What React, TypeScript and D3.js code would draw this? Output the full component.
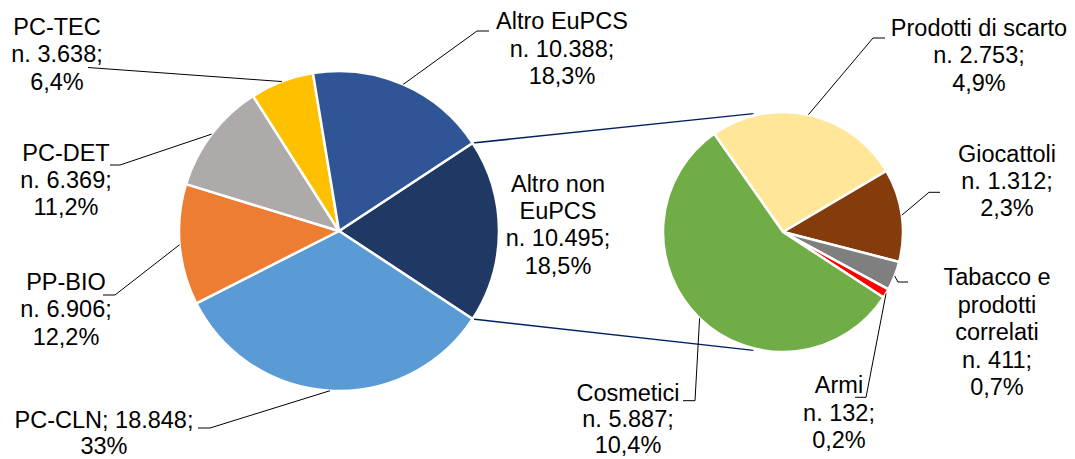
import React from "react";
import * as d3 from "d3";

// ---- data ----
const mainCategories = ["Altro non EuPCS", "PC-CLN", "PP-BIO", "PC-DET", "PC-TEC", "Altro EuPCS"];
const mainValues = [10495, 18848, 6906, 6369, 3638, 10388];
const mainLabelLines = [
  ["Altro non", "EuPCS", "n. 10.495;", "18,5%"],
  ["PC-CLN; 18.848;", "33%"],
  ["PP-BIO", "n. 6.906;", "12,2%"],
  ["PC-DET", "n. 6.369;", "11,2%"],
  ["PC-TEC", "n. 3.638;", "6,4%"],
  ["Altro EuPCS", "n. 10.388;", "18,3%"],
];

const subCategories = ["Prodotti di scarto", "Giocattoli", "Tabacco e prodotti correlati", "Armi", "Cosmetici"];
const subValues = [2753, 1312, 411, 132, 5887];
const subLabelLines = [
  ["Prodotti di scarto", "n. 2.753;", "4,9%"],
  ["Giocattoli", "n. 1.312;", "2,3%"],
  ["Tabacco e", "prodotti", "correlati", "n. 411;", "0,7%"],
  ["Armi", "n. 132;", "0,2%"],
  ["Cosmetici", "n. 5.887;", "10,4%"],
];

// ---- styles / layout ----
const mainColors = ["#203864", "#5B9BD5", "#ED7D31", "#AEAAAA", "#FFC000", "#2F5597"];
const subColors = ["#FFE699", "#843C0C", "#7F7F7F", "#FF0000", "#70AD47"];

const W = 1075;
const H = 459;
const mainC = { x: 339, y: 231, r: 160 };
const subC = { x: 783, y: 232, r: 120 };
const subStartDeg = -35;
const fontSize = 23.5;

// label layout: cx, first baseline, line height, leader elbow, leader end (null = no leader)
const mainLabelLayout = [
  { cx: 558, y: 191.7, lh: 27.3, elbow: null, end: null },
  { cx: 104, y: 428, lh: 25.5, elbow: [210, 428], end: [198, 428] },
  { cx: 66, y: 290, lh: 27.3, elbow: [115, 295], end: [103, 295] },
  { cx: 66, y: 160.7, lh: 27.3, elbow: [120, 165], end: [110, 165] },
  { cx: 57, y: 35, lh: 27.3, elbow: [88, 67.5], end: [88, 67.5] },
  { cx: 562, y: 29.3, lh: 27.3, elbow: [477, 31], end: [489, 31] },
];
const subLabelLayout = [
  { cx: 979, y: 36, lh: 27.3, elbow: [873, 38], end: [885, 38] },
  { cx: 1007, y: 161.7, lh: 27, elbow: [929, 192.3], end: [940, 192.3] },
  { cx: 997, y: 285, lh: 27.5, elbow: [898, 282], end: [908, 282] },
  { cx: 839, y: 393.3, lh: 27.3, elbow: [866, 397.3], end: [855, 397.3] },
  { cx: 628, y: 401, lh: 26, elbow: [695, 400.7], end: [683, 400.7] },
];

const rad = (d: number) => (d * Math.PI) / 180;
const polar = (c: { x: number; y: number }, r: number, a: number) => [
  c.x + r * Math.sin(a),
  c.y - r * Math.cos(a),
];

type Lay = { cx: number; y: number; lh: number; elbow: number[] | null; end: number[] | null };

export default function App() {
  const mainTotal = d3.sum(mainValues);
  const otherSpan = (mainValues[0] / mainTotal) * 2 * Math.PI;
  const mainStart = Math.PI / 2 - otherSpan / 2;

  const mainPie = d3
    .pie<number>()
    .sort(null)
    .value((d) => d)
    .startAngle(mainStart)
    .endAngle(mainStart + 2 * Math.PI);
  const mainArcs = mainPie(mainValues);

  const subPie = d3
    .pie<number>()
    .sort(null)
    .value((d) => d)
    .startAngle(rad(subStartDeg))
    .endAngle(rad(subStartDeg) + 2 * Math.PI);
  const subArcs = subPie(subValues);

  const mainArc = d3.arc<d3.PieArcDatum<number>>().innerRadius(0).outerRadius(mainC.r);
  const subArc = d3.arc<d3.PieArcDatum<number>>().innerRadius(0).outerRadius(subC.r);

  // connector lines between the "other" slice and secondary pie
  const topA = polar(mainC, mainC.r, mainArcs[0].startAngle);
  const botA = polar(mainC, mainC.r, mainArcs[0].endAngle);
  const topB = polar(subC, subC.r + 2, rad(-14));
  const botB = polar(subC, subC.r + 2, rad(194));

  const renderLabel = (
    lines: string[],
    lay: Lay,
    c: { x: number; y: number },
    r: number,
    a: d3.PieArcDatum<number>,
    key: string
  ) => {
    const mid = (a.startAngle + a.endAngle) / 2;
    const p = polar(c, r, mid);
    return (
      <g key={key}>
        {lay.elbow && lay.end && (
          <polyline
            points={`${p[0]},${p[1]} ${lay.elbow[0]},${lay.elbow[1]} ${lay.end[0]},${lay.end[1]}`}
            fill="none"
            stroke="#000"
            strokeWidth={1}
          />
        )}
        <text
          x={lay.cx}
          y={lay.y}
          textAnchor="middle"
          fontFamily="'Liberation Sans', Arial, sans-serif"
          fontSize={fontSize}
          fill="#000"
        >
          {lines.map((l, i) => (
            <tspan key={i} x={lay.cx} y={lay.y + i * lay.lh}>
              {l}
            </tspan>
          ))}
        </text>
      </g>
    );
  };

  return (
    <svg
      width={W}
      height={H}
      style={{ position: "absolute", left: 0, top: 0, background: "#fff" }}
    >
      <rect width={W} height={H} fill="#fff" />
      <line x1={topA[0]} y1={topA[1]} x2={topB[0]} y2={topB[1]} stroke="#002060" strokeWidth={1.5} />
      <line x1={botA[0]} y1={botA[1]} x2={botB[0]} y2={botB[1]} stroke="#002060" strokeWidth={1.5} />
      <g transform={`translate(${mainC.x},${mainC.y})`}>
        {mainArcs.map((a, i) => (
          <path key={mainCategories[i]} d={mainArc(a) || ""} fill={mainColors[i]} stroke="#fff" strokeWidth={2.5} strokeLinejoin="round" />
        ))}
      </g>
      <g transform={`translate(${subC.x},${subC.y})`}>
        {subArcs.map((a, i) => (
          <path key={subCategories[i]} d={subArc(a) || ""} fill={subColors[i]} stroke="#fff" strokeWidth={2.5} strokeLinejoin="round" />
        ))}
      </g>
      {mainArcs.map((a, i) =>
        renderLabel(mainLabelLines[i], mainLabelLayout[i] as Lay, mainC, mainC.r, a, "ml" + i)
      )}
      {subArcs.map((a, i) =>
        renderLabel(subLabelLines[i], subLabelLayout[i] as Lay, subC, subC.r, a, "sl" + i)
      )}
    </svg>
  );
}
